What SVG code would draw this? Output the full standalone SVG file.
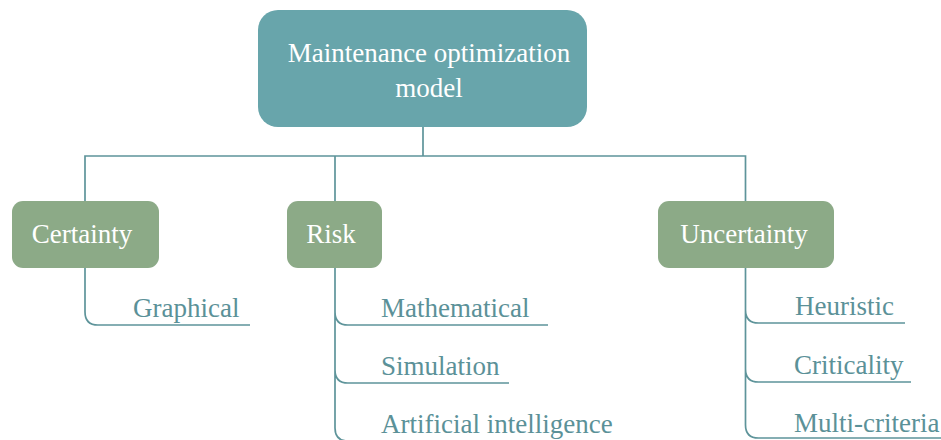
<svg xmlns="http://www.w3.org/2000/svg" width="941" height="440" viewBox="0 0 941 440">
<style>
.conn{fill:none;stroke:#5e949a;stroke-width:1.7}
.root{fill:#68a5ab}
.cat{fill:#8caa87}
.wt{fill:#ffffff;font-family:"Liberation Serif","Times New Roman",serif;font-size:27px;text-anchor:middle}
.lt{fill:#5b9198;font-family:"Liberation Serif","Times New Roman",serif;font-size:27px}
</style>
<rect width="941" height="440" fill="#ffffff"/>
<g id="connectors">
<path class="conn" d="M423,127 V156 M85,201 V156 H745.5 V201 M335,156 V201"/>
<path class="conn" d="M85,268 V312 Q85,325 98,325 H250"/>
<path class="conn" d="M335,268 V428 Q335,441 348,441 H607 M335,312 Q335,325 348,325 H548 M335,370 Q335,383 348,383 H509"/>
<path class="conn" d="M745.5,268 V425 Q745.5,438 758.5,438 H941 M745.5,310 Q745.5,323 758.5,323 H905 M745.5,369 Q745.5,382 758.5,382 H911"/>
</g>
<g id="root">
<rect class="root" x="258" y="10" width="329" height="117" rx="20"/>
<text class="wt" x="429" y="62">Maintenance optimization</text>
<text class="wt" x="429" y="97">model</text>
</g>
<g id="certainty">
<rect class="cat" x="12" y="201" width="147" height="67" rx="11"/>
<text class="wt" x="82" y="243">Certainty</text>
</g>
<g id="risk">
<rect class="cat" x="287" y="201" width="95" height="67" rx="11"/>
<text class="wt" x="331" y="243">Risk</text>
</g>
<g id="uncertainty">
<rect class="cat" x="658" y="201" width="176" height="67" rx="11"/>
<text class="wt" x="744" y="243">Uncertainty</text>
</g>
<g id="graphical"><text class="lt" x="133" y="317">Graphical</text></g>
<g id="mathematical"><text class="lt" x="381" y="317">Mathematical</text></g>
<g id="simulation"><text class="lt" x="381" y="375">Simulation</text></g>
<g id="ai"><text class="lt" x="381" y="433">Artificial intelligence</text></g>
<g id="heuristic"><text class="lt" x="795" y="315">Heuristic</text></g>
<g id="criticality"><text class="lt" x="794" y="374">Criticality</text></g>
<g id="multicriteria"><text class="lt" x="794" y="432">Multi-criteria</text></g>
</svg>
